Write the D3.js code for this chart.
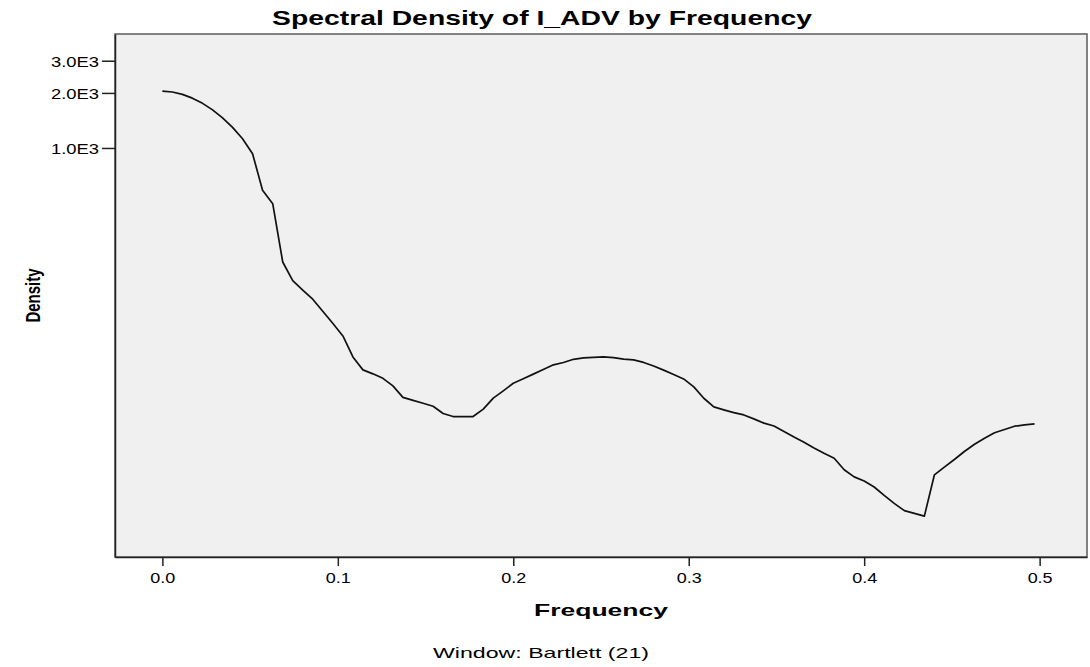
<!DOCTYPE html>
<html>
<head>
<meta charset="utf-8">
<script src="https://cdn.jsdelivr.net/npm/d3@7"></script>
<style>
  html, body { margin: 0; padding: 0; background: #ffffff; }
  svg { display: block; }
  text { font-family: "Liberation Sans", Arial, sans-serif; fill: #000; }
</style>
</head>
<body>
<svg id="chart" width="1090" height="667"></svg>
<script>
// ---------- data ----------
const frequencies = [
  0, .0057, .0114, .0171, .0229, .0286, .0343, .0400, .0457, .0514,
  .0571, .0629, .0686, .0743, .0800, .0857, .0914, .0971, .1029, .1086,
  .1143, .1200, .1257, .1314, .1371, .1429, .1486, .1543, .1600, .1657,
  .1714, .1771, .1829, .1886, .1943, .2000, .2057, .2114, .2171, .2229,
  .2286, .2343, .2400, .2457, .2514, .2571, .2629, .2686, .2743, .2800,
  .2857, .2914, .2971, .3029, .3086, .3143, .3200, .3257, .3314, .3371,
  .3429, .3486, .3543, .3600, .3657, .3714, .3771, .3829, .3886, .3943,
  .4000, .4057, .4114, .4171, .4229, .4286, .4343, .4400, .4457, .4514,
  .4571, .4629, .4686, .4743, .4800, .4857, .4914, .4971
];
const density = [
  2047, 2024, 1964, 1873, 1754, 1616, 1462, 1297, 1123, 930,
  588, 496, 238, 188, 167, 149, 128, 110, 93.8, 72.0,
  61.2, 58.2, 55.0, 50.0, 43.3, 41.7, 40.2, 38.7, 35.3, 34.0,
  34.0, 34.0, 37.3, 42.9, 47.0, 51.7, 54.7, 58.0, 61.4, 65.2,
  67.1, 69.9, 71.1, 71.6, 72.1, 71.4, 70.0, 69.4, 67.2, 64.3,
  61.0, 57.7, 54.6, 49.4, 42.8, 38.4, 37.0, 35.7, 34.7, 33.0,
  31.3, 30.2, 28.2, 26.3, 24.6, 22.9, 21.4, 20.1, 17.4, 15.9,
  15.1, 14.0, 12.6, 11.4, 10.4, 10.05, 9.70, 16.3, 18.0, 19.8,
  21.9, 24.0, 25.9, 27.7, 28.9, 30.1, 30.6, 31.0
];
const xTickValues = [0, 0.1, 0.2, 0.3, 0.4, 0.5];
const xTickLabels = ["0.0", "0.1", "0.2", "0.3", "0.4", "0.5"];
const yTickValues = [1000, 2000, 3000];
const yTickLabels = ["1.0E3", "2.0E3", "3.0E3"];
const titleText = "Spectral Density of I_ADV by Frequency";
const xTitle = "Frequency";
const yTitle = "Density";
const footnote = "Window: Bartlett (21)";

// ---------- layout ----------
const svg = d3.select("#chart");
const plot = { left: 115, right: 1087, top: 34, bottom: 557 };

const x = d3.scaleLinear().domain([-0.027, 0.527]).range([plot.left, plot.right]);
const y = d3.scaleLog().domain([5.8, 4200]).range([plot.bottom, plot.top]);

// plot background + frame
svg.append("rect")
  .attr("x", plot.left).attr("y", plot.top)
  .attr("width", plot.right - plot.left).attr("height", plot.bottom - plot.top)
  .attr("fill", "#f0f0f0").attr("stroke", "#5a5a5a").attr("stroke-width", 1.5);

// y axis
const yAxis = d3.axisLeft(y).tickValues(yTickValues)
  .tickFormat((d, i) => yTickLabels[i]).tickSize(13).tickSizeOuter(0);
const gy = svg.append("g").attr("transform", `translate(${plot.left},0)`).call(yAxis);
gy.select(".domain").attr("stroke", "#222").attr("stroke-width", 1.5);
gy.selectAll(".tick line").attr("stroke", "#222").attr("stroke-width", 1.5);
gy.selectAll(".tick text")
  .attr("x", -16).attr("dy", "0.40em")
  .style("font-size", "14px")
  .attr("textLength", 48).attr("lengthAdjust", "spacingAndGlyphs");

// x axis
const xAxis = d3.axisBottom(x).tickValues(xTickValues)
  .tickFormat((d, i) => xTickLabels[i]).tickSize(9).tickSizeOuter(0);
const gx = svg.append("g").attr("transform", `translate(0,${plot.bottom})`).call(xAxis);
gx.select(".domain").attr("stroke", "#222").attr("stroke-width", 1.5);
gx.selectAll(".tick line").attr("stroke", "#222").attr("stroke-width", 1.5);
gx.selectAll(".tick text")
  .attr("y", 26).attr("dy", 0)
  .style("font-size", "14.5px")
  .attr("textLength", 25).attr("lengthAdjust", "spacingAndGlyphs");
svg.selectAll(".tick text").attr("fill", "#000").style("font-family", "'Liberation Sans', Arial, sans-serif");

// line
const line = d3.line()
  .x((d, i) => x(frequencies[i]))
  .y(d => y(d));
svg.append("path")
  .datum(density)
  .attr("d", line)
  .attr("fill", "none")
  .attr("stroke", "#111")
  .attr("stroke-width", 1.7)
  .attr("stroke-linejoin", "round");

// title
svg.append("text")
  .attr("x", 542).attr("y", 25)
  .attr("text-anchor", "middle")
  .style("font-size", "21px").style("font-weight", "bold")
  .attr("textLength", 540).attr("lengthAdjust", "spacingAndGlyphs")
  .text(titleText);

// x title
svg.append("text")
  .attr("x", (plot.left + plot.right) / 2).attr("y", 616)
  .attr("text-anchor", "middle")
  .style("font-size", "17px").style("font-weight", "bold")
  .attr("textLength", 134).attr("lengthAdjust", "spacingAndGlyphs")
  .text(xTitle);

// y title (rotated, horizontally stretched like the rest)
svg.append("text")
  .attr("transform", `translate(40,${(plot.top + plot.bottom) / 2}) scale(1.35,1) rotate(-90)`)
  .attr("text-anchor", "middle")
  .style("font-size", "15px").style("font-weight", "bold")
  .text(yTitle);

// footnote
svg.append("text")
  .attr("x", 541).attr("y", 658)
  .attr("text-anchor", "middle")
  .style("font-size", "15px")
  .attr("textLength", 216).attr("lengthAdjust", "spacingAndGlyphs")
  .text(footnote);
</script>
</body>
</html>
